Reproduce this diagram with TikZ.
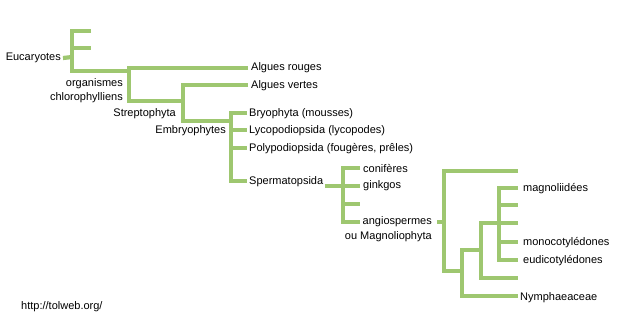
\documentclass[tikz,border=0pt]{standalone}
\usepackage{fontspec}
\setmainfont{Liberation Sans}
\definecolor{treegreen}{RGB}{158,199,112}
\begin{document}
\begin{tikzpicture}[x=1pt,y=-1pt,
  br/.style={draw=treegreen,line width=4.2pt,line join=miter},
  lbl/.style={inner sep=0pt,font=\fontsize{11}{13}\selectfont,text=black,yshift=-1pt},
  lw/.style={lbl,anchor=west},
  le/.style={lbl,anchor=east}]
\fill[white] (0,0) rectangle (620,330);
\useasboundingbox (0,0) rectangle (620,330);

% labels
\node[le] (euc) at (61,57) {Eucaryotes};
\node[le] (org) at (123,83) {organismes};
\node[le] (chl) at (123,97) {chlorophylliens};
\node[le] (str) at (176,113) {Streptophyta};
\node[le] (emb) at (226,130) {Embryophytes};
\node[lw] (alr) at (251,67) {Algues rouges};
\node[lw] (alv) at (251,85) {Algues vertes};
\node[lw] (bry) at (249,113) {Bryophyta (mousses)};
\node[lw] (lyc) at (249,130) {Lycopodiopsida (lycopodes)};
\node[lw] (pol) at (249,148) {Polypodiopsida (fougères, prêles)};
\node[lw] (spe) at (249,181) {Spermatopsida};
\node[lw] (con) at (363,167) {conifères};
\node[lw] (gin) at (363,185) {ginkgos};
\node[le] (ang) at (432,221) {angiospermes};
\node[le] (mag) at (432,236) {ou Magnoliophyta};
\node[lw] (mgl) at (523,188) {magnoliidées};
\node[lw] (mon) at (523,242) {monocotylédones};
\node[lw] (eud) at (523,260) {eudicotylédones};
\node[lw] (nym) at (520,297) {Nymphaeaceae};
\node[lw] (url) at (21,306) {http://tolweb.org/};

% bracket A (Eucaryotes)
\draw[br] (euc.east)++(2,0) -- (72,57);
\draw[br] (91,31) -- (72,31) -- (72,71) -- (129,71);
\draw[br] (72,48) -- (91,48);
% bracket B
\draw[br] (248,68) -- (129,68) -- (129,101) -- (183,101);
% bracket C
\draw[br] (248,85) -- (183,85) -- (183,121) -- (231,121);
% bracket D
\draw[br] (247,113) -- (231,113) -- (231,181) -- (247,181);
\draw[br] (231,130) -- (247,130);
\draw[br] (231,148) -- (247,148);
% bracket E
\draw[br] (spe.east)++(2,4) -- (343,186);
\draw[br] (360,168) -- (343,168) -- (343,222) -- (360,222);
\draw[br] (343,186) -- (360,186);
\draw[br] (343,204) -- (360,204);
% bracket F
\draw[br] (ang.east)++(5,0) -- (444,222);
\draw[br] (518,171) -- (444,171) -- (444,271) -- (462,271);
% bracket G
\draw[br] (481,250) -- (462,250) -- (462,296) -- (518,296);
% bracket H
\draw[br] (518,223) -- (481,223) -- (481,278) -- (518,278);
% bracket I
\draw[br] (518,188) -- (499,188) -- (499,260) -- (518,260);
\draw[br] (499,205) -- (518,205);
\draw[br] (499,242) -- (518,242);
\end{tikzpicture}
\end{document}
